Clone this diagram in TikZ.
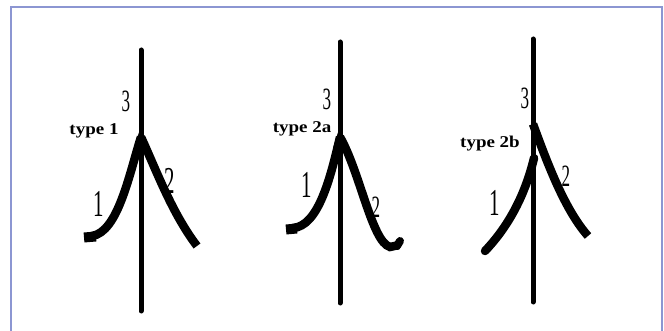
\documentclass[tikz,border=0pt]{standalone}
\usepackage{fontspec}
\setmainfont{Liberation Serif}
\definecolor{framecol}{RGB}{140,150,210}
\begin{document}
\begin{tikzpicture}[x=1pt,y=-1pt,
  stem/.style={line width=5pt, line cap=round},
  branch/.style={line width=8.5pt, line cap=butt},
  endcap/.style={line width=10pt, line cap=butt},
  typelab/.style={font=\fontsize{16.5}{16.5}\selectfont\bfseries, xscale=1.15, inner sep=0pt},
  num/.style={font=\fontsize{31}{31}\selectfont, xscale=0.55, inner sep=0pt},
  bignum/.style={font=\fontsize{38}{38}\selectfont, xscale=0.55, inner sep=0pt}]
\clip (0,0) rectangle (664,331);
\fill[white] (0,0) rectangle (664,331);
\draw[framecol, line width=2pt] (11,7) rectangle (662,345);

% ---------- type 1 ----------
\coordinate (t1top) at (141,50);
\coordinate (t1bot) at (141,311);
\coordinate (t1apex) at (141,137);
\draw[stem] (t1top) -- (t1bot);
\draw[branch] (t1apex) .. controls (129,175) and (118,232) .. (92,236);
\draw[endcap] (96,236.5) -- (84,237.5);
\draw[branch] (t1apex) .. controls (157,172) and (172,213) .. (197,246);
\fill (141,126) -- (134,148) -- (148,148) -- cycle;
\node[num] (t1n3) at (126,101) {3};
\node[typelab] (t1lab) at (94,131) {type 1};
\node[bignum] (t1n1) at (99,204) {1};
\node[bignum] (t1n2) at (170,181) {2};

% ---------- type 2a ----------
\coordinate (t2top) at (340,42);
\coordinate (t2bot) at (340,303);
\coordinate (t2apex) at (340,137);
\draw[stem] (t2top) -- (t2bot);
\draw[branch] (t2apex) .. controls (330,180) and (318,226) .. (293,228);
\draw[endcap] (297,228.5) -- (286,229.5);
\draw[branch] (t2apex) .. controls (360,172) and (372,242) .. (390,247) -- (399,245);
\draw[line width=8pt, line cap=round] (397,246) -- (400,241);
\fill (340,126) -- (333,148) -- (347,148) -- cycle;
\node[num] (t2n3) at (327,99) {3};
\node[typelab] (t2lab) at (302,129) {type 2a};
\node[bignum] (t2n1) at (307,185) {1};
\node[num] (t2n2) at (376,207) {2};

% ---------- type 2b ----------
\coordinate (t3top) at (533,39);
\coordinate (t3bot) at (533,302);
\coordinate (t3apexr) at (533,124);
\coordinate (t3apexl) at (534,158);
\draw[stem] (t3top) -- (t3bot);
\draw[branch] (t3apexr) .. controls (548,165) and (565,210) .. (588,236);
\draw[branch, line cap=round] (t3apexl) .. controls (524,200) and (505,230) .. (485,251);
\node[num] (t3n3) at (525,98) {3};
\node[typelab] (t3lab) at (490,144) {type 2b};
\node[bignum] (t3n1) at (495,203) {1};
\node[num] (t3n2) at (566,176) {2};
\end{tikzpicture}
\end{document}
